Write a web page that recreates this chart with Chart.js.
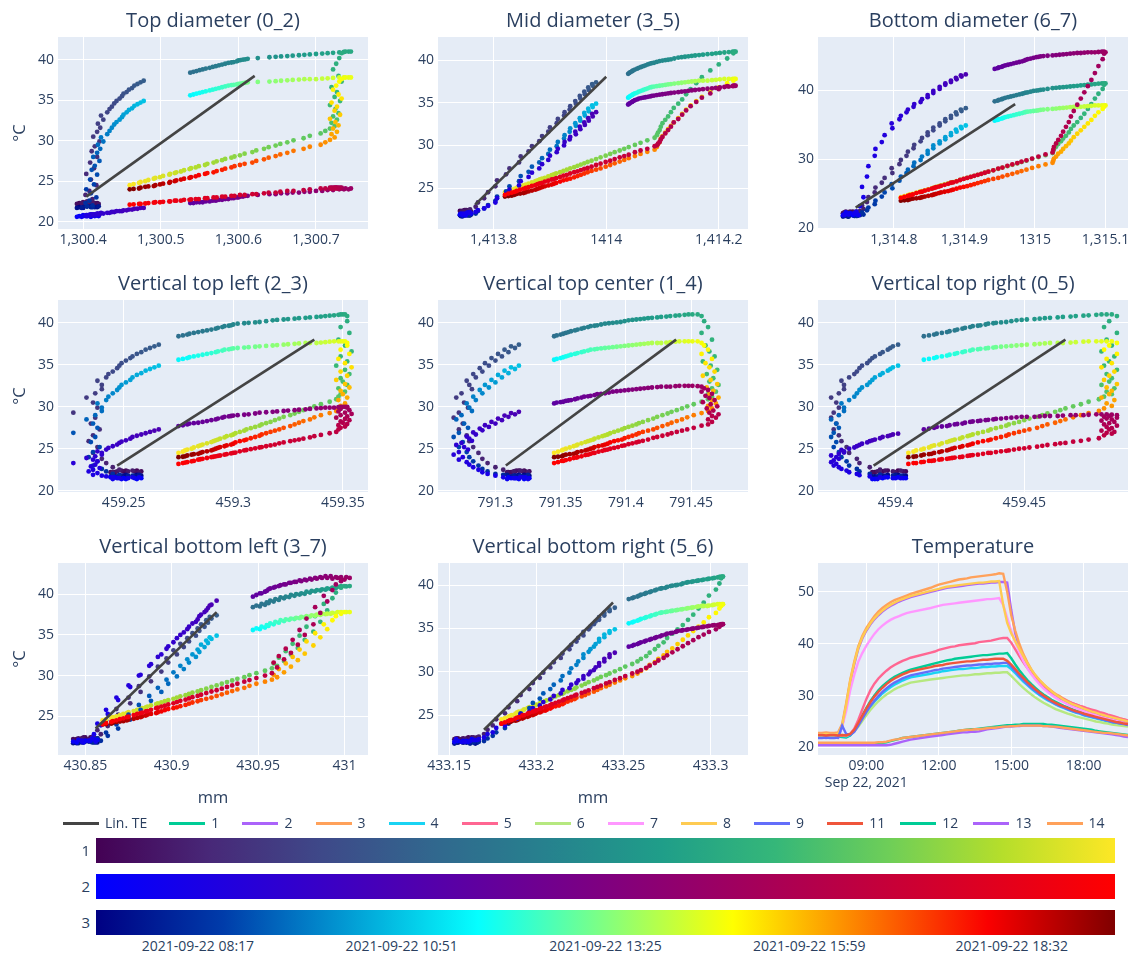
<!DOCTYPE html>
<html><head><meta charset="utf-8">
<script src="https://cdn.jsdelivr.net/npm/chart.js@4.4.1/dist/chart.umd.min.js"></script>
<style>
html,body{margin:0;padding:0;background:#fff;}
#page{position:relative;width:1136px;height:957px;overflow:hidden;font-family:'Open Sans',sans-serif;color:#2a3f5f;}
canvas{position:absolute;}
.lg{position:absolute;top:813px;height:20px;font-size:14px;line-height:20px;white-space:nowrap;}
.lg i{position:absolute;left:0;top:9px;width:36px;height:3px;}
.lg span{position:absolute;left:42px;top:0;}
.cb{position:absolute;left:96px;width:1019px;height:25px;}
.cbl{position:absolute;left:66px;width:24px;height:25px;line-height:25px;text-align:right;font-size:15px;}
.cbt{position:absolute;top:937px;line-height:18px;font-size:14px;transform:translateX(-50%);white-space:nowrap;}
</style></head><body><div id="page"></div>
<script>
// ================= DATA =================
// sample times of the scatter panels (gap between 10:50 and 11:40)
const sampleTimes = ["07:00","07:05","07:10","07:15","07:20","07:25","07:30","07:35","07:40","07:45","07:50","07:55","08:00",
"08:05","08:10","08:15","08:20","08:25","08:30","08:35","08:40","08:45","08:50","08:55","09:00","09:05","09:10","09:15","09:20","09:25","09:30","09:35","09:40","09:45","09:50","09:55","10:00","10:05","10:10","10:15","10:20","10:25","10:30","10:35","10:40","10:45","10:50",
"11:40","11:45","11:50","11:55","12:00","12:05","12:10","12:15","12:20","12:25","12:30","12:35","12:40","12:45","12:50","12:55","13:00","13:05","13:10","13:15","13:20","13:25","13:30","13:35","13:40","13:45","13:50","13:55","14:00","14:05","14:10","14:15","14:20","14:25","14:30","14:35","14:40","14:45","14:50","14:55",
"15:00","15:05","15:10","15:15","15:20","15:25","15:30","15:35","15:40","15:45","15:50","15:55","16:00","16:05","16:10","16:15","16:20","16:25",
"16:30","16:35","16:40","16:45","16:50","16:55","17:00","17:05","17:10","17:15","17:20","17:25","17:30","17:35","17:40","17:45","17:50","17:55","18:00","18:05","18:10","18:15","18:20","18:25","18:30","18:35","18:40","18:45","18:50","18:55","19:00","19:05","19:10","19:15","19:20","19:25","19:30","19:35","19:40","19:45","19:50"];

// sensor shown with colour scale 1 (same in every panel), °C
const tempScale1 = [22.3,22.4,22.2,22.3,22.4,22.2,22.3,22.4,22.2,22.3,22.3,22.2,22.4,
22.5,22.8,23.3,23.8,24.5,25.2,25.9,26.6,27.3,28.0,28.7,29.3,29.9,30.5,31.1,31.6,32.1,32.6,33.1,33.5,33.9,34.2,34.6,34.9,35.2,35.5,35.8,36.0,36.3,36.5,36.8,37.0,37.2,37.4,
38.4,38.5,38.6,38.7,38.8,38.9,39.0,39.1,39.2,39.3,39.4,39.5,39.6,39.65,39.7,39.8,39.9,39.95,40.0,40.05,40.1,40.2,40.3,40.35,40.4,40.45,40.5,40.55,40.6,40.65,40.7,40.75,40.8,40.85,40.9,40.95,41.0,41.0,41.0,40.8,
40.2,39.5,38.8,38.0,37.3,36.6,36.0,35.4,34.9,34.4,33.9,33.4,33.0,32.6,32.2,31.8,31.5,31.2,
30.9,30.6,30.3,30.05,29.8,29.6,29.4,29.2,29.0,28.8,28.6,28.4,28.2,28.05,27.9,27.75,27.6,27.45,27.3,27.15,27.0,26.85,26.7,26.6,26.5,26.35,26.2,26.1,26.0,25.9,25.8,25.65,25.5,25.4,25.3,25.15,25.0,24.9,24.8,24.65,24.5];
// sensor shown with colour scale 3 (same in every panel), °C
const tempScale3 = [21.8,21.9,21.7,21.8,21.9,21.7,21.8,21.8,21.9,21.7,21.8,21.9,21.8,
21.9,22.0,22.3,22.6,23.0,23.5,24.0,24.6,25.2,25.8,26.4,26.9,27.5,28.0,28.5,29.0,29.5,29.9,30.4,30.8,31.2,31.6,32.0,32.3,32.6,32.9,33.2,33.5,33.8,34.0,34.3,34.5,34.7,34.9,
35.6,35.7,35.8,35.9,36.0,36.1,36.2,36.3,36.4,36.5,36.6,36.7,36.8,36.85,36.9,36.95,37.0,37.05,37.1,37.15,37.2,37.25,37.3,37.35,37.4,37.45,37.5,37.55,37.6,37.6,37.6,37.65,37.7,37.75,37.8,37.8,37.8,37.8,37.8,37.6,
37.3,36.8,36.3,35.7,35.2,34.7,34.2,33.7,33.2,32.7,32.3,31.9,31.5,31.1,30.8,30.4,30.1,29.8,
29.5,29.25,29.0,28.75,28.5,28.3,28.1,27.9,27.7,27.5,27.3,27.15,27.0,26.85,26.7,26.55,26.4,26.25,26.1,26.0,25.9,25.75,25.6,25.5,25.4,25.3,25.2,25.1,25.0,24.9,24.8,24.7,24.6,24.5,24.4,24.35,24.3,24.2,24.1,24.05,24.0];

// ---- Top diameter (0_2): measured length (mm) and colour-scale-2 sensor (°C)
const topDiaX = [1300.395,1300.41,1300.40,1300.418,1300.405,1300.392,1300.415,1300.40,1300.42,1300.398,1300.41,1300.405,1300.412,
1300.405,1300.412,1300.403,1300.408,1300.417,1300.41,1300.404,1300.414,1300.409,1300.418,1300.411,1300.415,1300.421,1300.413,1300.418,1300.422,1300.419,1300.426,1300.423,1300.431,1300.434,1300.437,1300.44,1300.443,1300.447,1300.45,1300.452,1300.456,1300.459,1300.463,1300.466,1300.47,1300.474,1300.478,
1300.538,1300.542,1300.546,1300.55,1300.554,1300.558,1300.563,1300.567,1300.571,1300.575,1300.579,1300.583,1300.587,1300.591,1300.594,1300.598,1300.60,1300.603,1300.606,1300.609,1300.612,1300.625,1300.64,1300.648,1300.655,1300.663,1300.67,1300.678,1300.685,1300.692,1300.70,1300.708,1300.715,1300.722,1300.73,1300.736,1300.742,1300.745,1300.738,1300.733,
1300.73,1300.726,1300.722,1300.729,1300.733,1300.72,1300.727,1300.724,1300.731,1300.718,1300.725,1300.729,1300.722,1300.727,1300.72,1300.724,1300.718,1300.712,
1300.706,1300.692,1300.684,1300.671,1300.663,1300.654,1300.648,1300.639,1300.633,1300.623,1300.618,1300.608,1300.602,1300.595,1300.591,1300.583,1300.579,1300.572,1300.568,1300.56,1300.557,1300.549,1300.545,1300.539,1300.537,1300.53,1300.526,1300.52,1300.518,1300.512,1300.511,1300.503,1300.499,1300.493,1300.491,1300.484,1300.48,1300.474,1300.472,1300.465,1300.46];
const topDiaT = [20.7,20.6,20.7,20.8,20.7,20.6,20.7,20.8,20.7,20.6,20.7,20.7,20.8,
20.8,20.8,20.7,20.7,20.8,20.8,20.8,20.8,20.9,20.9,20.9,20.9,20.9,20.9,21.0,21.0,21.0,21.0,21.1,21.1,21.1,21.2,21.2,21.3,21.3,21.3,21.4,21.4,21.5,21.5,21.6,21.6,21.7,21.7,
22.3,22.3,22.4,22.4,22.4,22.5,22.5,22.6,22.6,22.7,22.7,22.8,22.8,22.9,22.9,23.0,23.0,23.1,23.1,23.2,23.2,23.3,23.4,23.4,23.5,23.5,23.6,23.6,23.7,23.7,23.8,23.8,23.9,23.9,24.0,24.0,24.0,24.1,24.1,24.1,
24.1,24.2,24.2,24.2,24.2,24.2,24.2,24.2,24.2,24.2,24.2,24.1,24.1,24.1,24.1,24.1,24.1,24.1,
24.1,24.0,23.9,23.8,23.8,23.7,23.6,23.6,23.5,23.4,23.4,23.3,23.3,23.2,23.2,23.1,23.1,23.0,23.0,22.9,22.9,22.8,22.8,22.75,22.7,22.7,22.6,22.6,22.6,22.5,22.5,22.45,22.4,22.4,22.35,22.3,22.25,22.2,22.2,22.15,22.1];
const topDiaLinX = [1300.404, 1300.621], topDiaLinY = [23.1, 38.0];
const topDiaTicks = [1300.4, 1300.5, 1300.6, 1300.7], topDiaTickText = ["1,300.4","1,300.5","1,300.6","1,300.7"];

// ---- Mid diameter (3_5)
const midDiaX = [1413.74,1413.752,1413.745,1413.758,1413.748,1413.742,1413.755,1413.75,1413.76,1413.744,1413.753,1413.747,1413.757,
1413.758,1413.768,1413.772,1413.783,1413.79,1413.803,1413.806,1413.822,1413.828,1413.845,1413.848,1413.862,1413.868,1413.881,1413.886,1413.897,1413.90,1413.912,1413.914,1413.925,1413.926,1413.935,1413.936,1413.946,1413.945,1413.954,1413.953,1413.962,1413.961,1413.969,1413.968,1413.976,1413.975,1413.982,
1414.039,1414.041,1414.043,1414.046,1414.048,1414.051,1414.055,1414.058,1414.062,1414.066,1414.07,1414.074,1414.078,1414.081,1414.085,1414.09,1414.095,1414.10,1414.105,1414.11,1414.115,1414.121,1414.128,1414.134,1414.14,1414.146,1414.152,1414.158,1414.165,1414.172,1414.18,1414.188,1414.195,1414.202,1414.21,1414.218,1414.225,1414.228,1414.23,1414.226,
1414.215,1414.20,1414.185,1414.17,1414.16,1414.15,1414.142,1414.135,1414.128,1414.12,1414.115,1414.11,1414.105,1414.10,1414.097,1414.095,1414.092,1414.09,
1414.086,1414.073,1414.061,1414.051,1414.04,1414.032,1414.024,1414.015,1414.007,1413.999,1413.99,1413.982,1413.974,1413.967,1413.961,1413.955,1413.949,1413.943,1413.936,1413.93,1413.924,1413.918,1413.911,1413.907,1413.903,1413.897,1413.891,1413.886,1413.882,1413.878,1413.874,1413.868,1413.862,1413.857,1413.853,1413.847,1413.841,1413.837,1413.832,1413.826,1413.82];
const midDiaT = [21.9,22.0,21.8,22.1,21.9,22.0,22.1,21.8,22.0,21.9,22.1,22.0,22.1,
22.1,22.2,22.4,22.6,22.9,23.3,23.8,24.3,24.8,25.3,25.8,26.3,26.8,27.3,27.8,28.3,28.8,29.2,29.6,30.0,30.4,30.7,31.0,31.3,31.6,31.9,32.2,32.4,32.7,32.9,33.2,33.4,33.7,33.9,
34.8,34.9,35.0,35.1,35.2,35.3,35.4,35.5,35.55,35.6,35.65,35.7,35.75,35.8,35.85,35.9,35.95,36.0,36.05,36.1,36.15,36.2,36.25,36.3,36.35,36.4,36.45,36.5,36.55,36.6,36.65,36.7,36.75,36.8,36.85,36.9,36.95,37.0,37.0,37.0,
36.95,36.6,36.1,35.6,35.1,34.6,34.1,33.6,33.1,32.7,32.2,31.8,31.4,31.0,30.7,30.4,30.2,30.0,
29.9,29.6,29.4,29.2,28.9,28.75,28.6,28.4,28.2,28.05,27.85,27.7,27.5,27.35,27.25,27.1,26.95,26.85,26.7,26.55,26.45,26.3,26.15,26.05,26.0,25.85,25.75,25.6,25.55,25.45,25.35,25.25,25.1,25.0,24.9,24.8,24.65,24.55,24.45,24.35,24.2];
const midDiaLinX = [1413.767, 1414.0], midDiaLinY = [23.05, 38.05];
const midDiaTicks = [1413.8, 1414, 1414.2], midDiaTickText = ["1,413.8","1414","1,414.2"];

// ---- Bottom diameter (6_7)
const botDiaX = [1314.73,1314.742,1314.735,1314.748,1314.738,1314.728,1314.745,1314.732,1314.75,1314.736,1314.744,1314.73,1314.747,
1314.752,1314.757,1314.755,1314.762,1314.764,1314.773,1314.774,1314.783,1314.787,1314.798,1314.797,1314.808,1314.81,1314.818,1314.82,1314.828,1314.829,1314.838,1314.84,1314.848,1314.848,1314.856,1314.856,1314.865,1314.865,1314.873,1314.873,1314.881,1314.881,1314.889,1314.888,1314.896,1314.895,1314.902,
1314.943,1314.947,1314.949,1314.953,1314.955,1314.958,1314.962,1314.966,1314.97,1314.974,1314.978,1314.982,1314.985,1314.987,1314.99,1314.994,1314.998,1315.002,1315.005,1315.008,1315.012,1315.018,1315.025,1315.03,1315.035,1315.04,1315.045,1315.05,1315.055,1315.06,1315.065,1315.07,1315.075,1315.08,1315.085,1315.09,1315.095,1315.098,1315.10,1315.098,
1315.096,1315.09,1315.085,1315.08,1315.075,1315.07,1315.065,1315.06,1315.055,1315.051,1315.048,1315.044,1315.04,1315.037,1315.033,1315.03,1315.027,1315.026,
1315.025,1315.015,1315.005,1314.996,1314.988,1314.981,1314.975,1314.968,1314.961,1314.954,1314.948,1314.941,1314.934,1314.929,1314.924,1314.919,1314.914,1314.909,1314.904,1314.899,1314.894,1314.889,1314.884,1314.881,1314.877,1314.872,1314.867,1314.864,1314.86,1314.857,1314.854,1314.849,1314.844,1314.84,1314.837,1314.832,1314.827,1314.823,1314.82,1314.815,1314.81];
const botDiaT = [22.0,21.9,22.1,22.0,22.2,21.9,22.1,22.3,21.9,22.0,22.2,21.9,22.4,
23.2,24.5,26.0,27.5,29.0,30.5,31.5,32.5,33.5,34.5,35.2,35.8,36.3,36.8,37.2,37.6,38.0,38.3,38.7,39.0,39.3,39.6,39.9,40.2,40.5,40.8,41.0,41.2,41.4,41.6,41.8,42.0,42.15,42.3,
43.1,43.2,43.3,43.4,43.5,43.6,43.7,43.8,43.9,44.0,44.1,44.2,44.3,44.4,44.5,44.6,44.7,44.8,44.85,44.9,44.95,45.0,45.05,45.1,45.15,45.2,45.25,45.3,45.35,45.4,45.4,45.45,45.5,45.5,45.5,45.55,45.6,45.6,45.5,45.3,
44.5,43.5,42.5,41.5,40.6,39.7,38.8,37.9,37.0,36.2,35.4,34.7,34.0,33.4,32.8,32.3,31.8,31.4,
31.0,30.7,30.4,30.1,29.85,29.65,29.45,29.25,29.05,28.8,28.65,28.4,28.2,28.05,27.9,27.75,27.6,27.45,27.3,27.15,27.0,26.8,26.65,26.6,26.45,26.3,26.15,26.05,25.95,25.85,25.75,25.6,25.45,25.3,25.25,25.1,24.9,24.8,24.7,24.55,24.4];
const botDiaLinX = [1314.746, 1314.972], botDiaLinY = [23.0, 38.0];
const botDiaTicks = [1314.8, 1314.9, 1315, 1315.1], botDiaTickText = ["1,314.8","1,314.9","1315","1,315.1"];

// ---- Vertical top left (2_3)
const vtlX = [459.25,459.256,459.246,459.258,459.251,459.244,459.255,459.249,459.257,459.247,459.252,459.245,459.254,
459.248,459.245,459.242,459.24,459.236,459.238,459.234,459.236,459.239,459.235,459.237,459.227,459.238,459.236,459.233,459.237,459.24,459.24,459.238,459.242,459.243,459.245,459.247,459.248,459.249,459.251,459.253,459.254,459.256,459.258,459.26,459.262,459.264,459.266,
459.275,459.277,459.279,459.28,459.282,459.284,459.286,459.288,459.29,459.292,459.293,459.295,459.296,459.298,459.299,459.30,459.302,459.305,459.307,459.31,459.312,459.315,459.318,459.32,459.323,459.325,459.328,459.33,459.333,459.335,459.338,459.34,459.342,459.344,459.346,459.348,459.349,459.35,459.351,459.352,
459.352,459.349,459.353,459.348,459.351,459.354,459.349,459.352,459.347,459.351,459.353,459.349,459.35,459.352,459.348,459.351,459.349,459.348,
459.347,459.344,459.34,459.337,459.335,459.332,459.33,459.328,459.326,459.323,459.321,459.319,459.317,459.315,459.313,459.312,459.31,459.308,459.306,459.305,459.303,459.301,459.30,459.299,459.297,459.296,459.294,459.293,459.292,459.291,459.29,459.288,459.286,459.285,459.284,459.282,459.281,459.279,459.278,459.277,459.275];
const vtlT = [21.5,21.4,21.6,21.5,21.4,21.6,21.5,21.4,21.6,21.5,21.5,21.4,21.6,
21.5,21.6,21.7,21.8,21.9,22.1,22.3,22.5,22.7,22.9,23.1,23.3,23.5,23.7,23.9,24.1,24.3,24.5,24.7,24.9,25.1,25.3,25.5,25.7,25.85,26.0,26.2,26.4,26.55,26.7,26.85,27.0,27.15,27.3,
27.7,27.8,27.9,28.0,28.05,28.1,28.2,28.3,28.4,28.5,28.6,28.7,28.8,28.85,28.9,28.95,29.0,29.05,29.1,29.2,29.3,29.35,29.4,29.45,29.5,29.55,29.6,29.65,29.7,29.75,29.8,29.85,29.9,29.9,29.9,29.95,30.0,30.0,30.0,30.0,
29.9,29.75,29.6,29.45,29.3,29.15,29.0,28.85,28.7,28.55,28.4,28.25,28.1,27.95,27.8,27.65,27.5,27.3,
27.0,26.85,26.65,26.5,26.35,26.2,26.1,26.0,25.9,25.75,25.65,25.5,25.4,25.3,25.2,25.15,25.05,24.95,24.85,24.8,24.7,24.55,24.5,24.45,24.35,24.3,24.2,24.15,24.1,24.05,24.0,23.9,23.8,23.75,23.7,23.55,23.5,23.4,23.35,23.3,23.2];
const vtlLinX = [459.247, 459.337], vtlLinY = [23.0, 38.0];
const vtlTicks = [459.25, 459.3, 459.35], vtlTickText = ["459.25","459.3","459.35"];

// ---- Vertical top center (1_4)
const vtcX = [791.315,791.322,791.31,791.326,791.318,791.312,791.323,791.316,791.309,791.321,791.314,791.325,791.319,
791.306,791.30,791.294,791.29,791.287,791.283,791.28,791.278,791.272,791.275,791.268,791.272,791.279,791.276,791.27,791.274,791.282,791.28,791.278,791.285,791.283,791.29,791.288,791.295,791.292,791.30,791.297,791.305,791.302,791.31,791.307,791.315,791.312,791.318,
791.345,791.347,791.35,791.352,791.354,791.356,791.358,791.361,791.363,791.366,791.368,791.371,791.373,791.376,791.378,791.381,791.384,791.387,791.39,791.393,791.396,791.399,791.402,791.405,791.408,791.411,791.414,791.417,791.42,791.424,791.427,791.431,791.434,791.438,791.441,791.445,791.448,791.451,791.455,791.458,
791.46,791.463,791.458,791.466,791.461,791.464,791.468,791.459,791.465,791.47,791.462,791.467,791.464,791.471,791.466,791.469,791.463,791.466,
791.463,791.458,791.452,791.447,791.443,791.439,791.435,791.432,791.428,791.424,791.421,791.417,791.413,791.41,791.408,791.405,791.402,791.399,791.397,791.394,791.391,791.388,791.386,791.384,791.382,791.379,791.376,791.375,791.373,791.371,791.369,791.366,791.363,791.362,791.36,791.357,791.354,791.352,791.351,791.348,791.345];
const vtcT = [21.5,21.4,21.6,21.5,21.4,21.5,21.6,21.5,21.4,21.6,21.5,21.4,21.6,
21.6,21.8,22.0,22.2,22.5,22.8,23.1,23.4,23.7,24.0,24.3,24.6,24.9,25.2,25.45,25.7,25.95,26.2,26.45,26.7,26.95,27.2,27.4,27.6,27.8,28.0,28.2,28.4,28.6,28.8,28.95,29.1,29.25,29.4,
30.4,30.5,30.55,30.6,30.7,30.75,30.8,30.9,31.0,31.1,31.2,31.25,31.3,31.4,31.5,31.55,31.6,31.7,31.8,31.85,31.9,31.95,32.0,32.05,32.1,32.15,32.2,32.25,32.3,32.35,32.4,32.4,32.4,32.45,32.5,32.5,32.5,32.5,32.45,32.4,
32.2,32.0,31.8,31.55,31.3,31.05,30.8,30.55,30.3,30.05,29.8,29.55,29.3,29.1,28.9,28.7,28.5,28.2,
27.9,27.75,27.5,27.3,27.15,27.0,26.85,26.7,26.55,26.4,26.3,26.1,25.95,25.85,25.75,25.65,25.55,25.4,25.35,25.2,25.1,25.0,24.9,24.85,24.75,24.65,24.5,24.5,24.4,24.3,24.25,24.1,24.0,23.95,23.9,23.75,23.65,23.55,23.55,23.4,23.3];
const vtcLinX = [791.308, 791.4385], vtcLinY = [23.0, 38.0];
const vtcTicks = [791.3, 791.35, 791.4, 791.45], vtcTickText = ["791.3","791.35","791.4","791.45"];

// ---- Vertical top right (0_5)
const vtrX = [459.395,459.401,459.392,459.404,459.397,459.391,459.403,459.396,459.40,459.393,459.399,459.394,459.402,
459.394,459.39,459.386,459.385,459.382,459.381,459.379,459.378,459.376,459.377,459.375,459.376,459.378,459.377,459.375,459.378,459.38,459.38,459.379,459.382,459.384,459.385,459.386,459.387,459.389,459.39,459.391,459.392,459.394,459.395,459.397,459.398,459.399,459.401,
459.411,459.413,459.415,459.416,459.418,459.42,459.421,459.423,459.424,459.426,459.427,459.429,459.43,459.432,459.433,459.435,459.436,459.438,459.439,459.441,459.443,459.445,459.447,459.449,459.451,459.454,459.456,459.458,459.46,459.463,459.465,459.468,459.47,459.473,459.475,459.478,459.48,459.482,459.484,459.486,
459.483,459.481,459.486,459.482,459.484,459.48,459.485,459.483,459.481,459.486,459.482,459.484,459.483,459.48,459.485,459.482,459.484,459.481,
459.479,459.475,459.472,459.469,459.466,459.464,459.462,459.459,459.457,459.455,459.452,459.45,459.448,459.446,459.444,459.443,459.441,459.439,459.437,459.436,459.434,459.432,459.43,459.429,459.428,459.426,459.425,459.423,459.422,459.421,459.42,459.418,459.417,459.415,459.414,459.413,459.411,459.41,459.408,459.407,459.405];
const vtrT = [21.5,21.6,21.4,21.5,21.6,21.4,21.5,21.6,21.5,21.4,21.5,21.6,21.5,
21.6,21.7,21.85,22.0,22.2,22.4,22.6,22.8,23.0,23.2,23.4,23.6,23.8,24.0,24.2,24.4,24.55,24.7,24.85,25.0,25.15,25.3,25.45,25.6,25.75,25.9,26.0,26.1,26.25,26.4,26.5,26.6,26.7,26.8,
27.3,27.4,27.5,27.6,27.65,27.7,27.8,27.9,27.95,28.0,28.1,28.2,28.25,28.3,28.35,28.4,28.45,28.5,28.55,28.6,28.65,28.7,28.75,28.8,28.8,28.8,28.85,28.9,28.9,28.9,28.95,29.0,29.0,29.0,29.05,29.1,29.1,29.1,29.05,29.0,
28.9,28.8,28.7,28.6,28.5,28.35,28.2,28.05,27.9,27.75,27.6,27.45,27.3,27.15,27.0,26.9,26.8,26.6,
26.25,26.1,25.95,25.85,25.7,25.65,25.55,25.45,25.35,25.25,25.15,25.05,25.0,24.9,24.8,24.75,24.7,24.6,24.5,24.5,24.4,24.3,24.25,24.2,24.15,24.05,24.0,23.95,23.9,23.85,23.8,23.75,23.7,23.6,23.55,23.55,23.45,23.4,23.3,23.3,23.2];
const vtrLinX = [459.3915, 459.466], vtrLinY = [23.0, 38.0];
const vtrTicks = [459.4, 459.45], vtrTickText = ["459.4","459.45"];

// ---- Vertical bottom left (3_7)
const vblX = [430.848,430.853,430.845,430.857,430.85,430.843,430.855,430.849,430.852,430.846,430.856,430.848,430.854,
430.855,430.859,430.857,430.863,430.862,430.869,430.868,430.876,430.875,430.882,430.881,430.888,430.887,430.894,430.892,430.898,430.897,430.903,430.901,430.907,430.905,430.91,430.909,430.914,430.912,430.916,430.915,430.919,430.917,430.921,430.92,430.923,430.922,430.926,
430.947,430.951,430.949,430.954,430.952,430.956,430.955,430.959,430.957,430.962,430.96,430.965,430.963,430.968,430.966,430.971,430.969,430.974,430.972,430.977,430.975,430.98,430.978,430.983,430.981,430.986,430.984,430.989,430.987,430.992,430.99,430.995,430.993,430.998,430.996,431.001,430.998,431.003,431.0,430.998,
430.995,430.993,430.988,430.99,430.983,430.986,430.978,430.982,430.974,430.977,430.97,430.973,430.966,430.969,430.962,430.965,430.959,430.961,
430.958,430.954,430.949,430.945,430.942,430.938,430.935,430.932,430.929,430.926,430.923,430.92,430.917,430.915,430.912,430.91,430.908,430.905,430.903,430.901,430.898,430.896,430.894,430.892,430.891,430.888,430.886,430.885,430.883,430.882,430.88,430.878,430.875,430.874,430.872,430.87,430.868,430.866,430.865,430.862,430.86];
const vblT = [21.9,22.0,21.8,22.1,22.0,21.9,22.2,21.8,22.0,22.1,21.9,22.0,22.3,
22.8,23.9,24.1,25.3,25.8,27.0,27.3,28.6,28.8,30.1,30.0,31.4,31.2,32.6,32.3,33.6,33.3,34.6,34.1,35.3,35.0,36.0,35.7,36.6,36.4,37.3,36.9,37.8,37.5,38.3,38.0,38.7,38.6,39.2,
39.7,40.1,39.9,40.3,40.1,40.6,40.4,40.8,40.7,41.0,40.9,41.2,41.1,41.4,41.2,41.5,41.4,41.7,41.5,41.8,41.6,41.9,41.7,42.0,41.8,42.1,41.9,42.2,42.0,42.2,42.0,42.1,41.9,42.1,42.0,42.1,41.9,42.0,41.8,41.6,
41.2,40.5,39.8,39.1,38.4,37.7,37.0,36.3,35.6,35.0,34.4,33.8,33.3,32.8,32.4,32.0,31.6,31.0,
30.3,30.0,29.7,29.45,29.25,29.0,28.8,28.6,28.4,28.2,28.05,27.85,27.65,27.5,27.35,27.2,27.05,26.9,26.75,26.6,26.45,26.3,26.2,26.05,26.0,25.8,25.65,25.6,25.45,25.4,25.3,25.15,24.95,24.9,24.75,24.65,24.5,24.4,24.3,24.15,24.0];
const vblLinX = [430.856, 430.926], vblLinY = [23.5, 37.8];
const vblTicks = [430.85, 430.9, 430.95, 431], vblTickText = ["430.85","430.9","430.95","431"];

// ---- Vertical bottom right (5_6)
const vbrX = [433.155,433.161,433.165,433.158,433.163,433.153,433.16,433.166,433.157,433.162,433.154,433.159,433.164,
433.167,433.17,433.172,433.175,433.177,433.182,433.184,433.189,433.191,433.196,433.198,433.202,433.204,433.208,433.21,433.214,433.215,433.219,433.22,433.223,433.224,433.227,433.227,433.23,433.231,433.233,433.234,433.236,433.236,433.239,433.239,433.242,433.242,433.245,
433.253,433.255,433.256,433.258,433.259,433.26,433.262,433.263,433.265,433.266,433.268,433.269,433.271,433.272,433.274,433.275,433.277,433.278,433.28,433.281,433.283,433.284,433.286,433.287,433.289,433.29,433.292,433.293,433.295,433.296,433.298,433.299,433.301,433.302,433.304,433.305,433.306,433.307,433.307,433.306,
433.305,433.303,433.299,433.296,433.293,433.29,433.287,433.284,433.281,433.278,433.275,433.273,433.27,433.268,433.265,433.263,433.26,433.258,
433.255,433.251,433.248,433.245,433.242,433.24,433.237,433.235,433.233,433.23,433.228,433.226,433.223,433.222,433.22,433.218,433.216,433.215,433.213,433.211,433.209,433.208,433.206,433.205,433.203,433.202,433.20,433.199,433.198,433.196,433.195,433.193,433.192,433.19,433.189,433.188,433.186,433.185,433.184,433.182,433.18];
const vbrT = [22.0,21.9,22.1,22.0,22.2,21.9,22.0,22.1,21.9,22.0,22.2,21.9,22.1,
22.2,22.4,22.8,23.0,23.5,23.8,24.3,24.6,25.1,25.4,25.8,26.1,26.5,26.8,27.2,27.5,27.9,28.1,28.5,28.7,29.0,29.2,29.5,29.7,30.0,30.2,30.5,30.7,31.0,31.2,31.5,31.7,32.0,32.2,
32.9,33.0,33.1,33.2,33.3,33.4,33.5,33.6,33.7,33.8,33.9,34.0,34.1,34.2,34.3,34.4,34.45,34.5,34.6,34.7,34.75,34.8,34.85,34.9,34.95,35.0,35.05,35.1,35.15,35.2,35.25,35.3,35.35,35.4,35.4,35.45,35.5,35.5,35.5,35.4,
35.2,34.9,34.6,34.3,34.0,33.65,33.3,32.95,32.6,32.25,31.9,31.6,31.3,31.0,30.7,30.45,30.2,30.0,
29.8,29.5,29.25,29.05,28.8,28.65,28.4,28.25,28.1,27.85,27.7,27.55,27.35,27.25,27.1,26.95,26.8,26.7,26.55,26.4,26.25,26.15,26.0,25.95,25.8,25.7,25.55,25.45,25.4,25.25,25.15,25.0,24.95,24.75,24.7,24.6,24.45,24.4,24.3,24.15,24.0];
const vbrLinX = [433.17, 433.244], vbrLinY = [23.3, 38.0];
const vbrTicks = [433.15, 433.2, 433.25, 433.3], vbrTickText = ["433.15","433.2","433.25","433.3"];

// ---- Temperature panel (10-minute samples)
const lineTimes = ["07:00","07:10","07:20","07:30","07:40","07:50","08:00",
"08:10","08:20","08:30","08:40","08:50","09:00","09:10","09:20","09:30","09:40","09:50","10:00","10:10","10:20","10:30","10:40","10:50",
"11:40","11:50","12:00","12:10","12:20","12:30","12:40","12:50","13:00","13:10","13:20","13:30","13:40","13:50","14:00","14:10","14:20","14:30","14:40","14:50",
"15:00","15:10","15:20","15:30","15:40","15:50","16:00","16:10","16:20",
"16:30","16:40","16:50","17:00","17:10","17:20","17:30","17:40","17:50","18:00","18:10","18:20","18:30","18:40","18:50","19:00","19:10","19:20","19:30","19:40","19:50"];
const lineNames = ["1","2","3","4","5","6","7","8","9","11","12","13","14"];
const line1 = [22.0,22.0,22.1,22.0,22.0,22.1,22.0, 21.9,22.3,23.2,24.6,26.1,27.6,28.9,30.0,31.0,31.8,32.5,33.1,33.6,34.0,34.4,34.7,35.0,
36.0,36.2,36.4,36.6,36.8,36.9,37.1,37.2,37.3,37.4,37.5,37.6,37.7,37.8,37.8,37.9,38.0,38.1,38.1,38.2, 37.2,36.0,34.9,33.9,33.0,32.2,31.5,30.8,30.2,
29.7,29.2,28.8,28.4,28.0,27.7,27.4,27.1,26.8,26.6,26.3,26.1,25.9,25.7,25.5,25.3,25.1,24.9,24.7,24.5,24.3];
const line2 = [21.9,21.9,21.8,21.9,21.9,21.8,24.0, 28.0,32.5,36.0,39.0,41.0,42.5,43.7,44.7,45.5,46.2,46.8,47.3,47.7,48.1,48.4,48.7,49.0,
50.0,50.2,50.4,50.6,50.8,50.9,51.0,51.1,51.2,51.3,51.4,51.5,51.6,51.6,51.7,51.8,51.8,51.9,51.9,51.8, 46.5,42.0,39.3,37.3,35.7,34.4,33.3,32.4,31.6,
30.9,30.3,29.8,29.3,28.9,28.5,28.1,27.8,27.5,27.2,26.9,26.6,26.4,26.1,25.9,25.7,25.5,25.3,25.1,24.9,24.7];
const line3 = [22.8,22.8,22.9,22.8,22.8,22.9,24.5, 28.5,33.0,36.5,39.5,41.5,43.0,44.2,45.3,46.2,46.9,47.5,48.0,48.4,48.7,49.0,49.3,49.6,
50.8,51.1,51.4,51.6,51.8,52.0,52.2,52.4,52.5,52.6,52.8,52.9,53.0,53.1,53.2,53.3,53.4,53.6,53.5,50.0, 45.5,42.5,40.0,38.0,36.4,35.0,33.9,33.0,32.2,
31.5,30.9,30.3,29.9,29.4,29.0,28.6,28.3,28.0,27.7,27.4,27.1,26.9,26.6,26.4,26.2,26.0,25.8,25.6,25.4,25.2];
const line4 = [22.1,22.1,22.2,22.1,22.1,22.2,22.2, 22.1,22.4,23.1,24.2,25.5,26.7,27.8,28.8,29.6,30.4,31.0,31.6,32.1,32.5,32.9,33.2,33.5,
34.2,34.4,34.5,34.7,34.8,34.9,35.0,35.1,35.1,35.2,35.3,35.3,35.4,35.5,35.5,35.6,35.6,35.7,35.7,35.7, 35.1,34.3,33.5,32.7,32.0,31.3,30.7,30.1,29.6,
29.1,28.7,28.3,27.9,27.6,27.3,27.0,26.7,26.5,26.2,26.0,25.8,25.6,25.4,25.2,25.0,24.8,24.7,24.5,24.4,24.2];
const line5 = [22.3,22.3,22.2,22.3,22.3,22.2,22.3, 22.2,22.6,23.6,25.3,27.3,29.3,31.0,32.3,33.3,34.1,34.8,35.4,35.9,36.3,36.7,37.0,37.3,
38.3,38.5,38.8,39.0,39.2,39.4,39.5,39.7,39.8,39.9,40.0,40.1,40.3,40.4,40.5,40.6,40.8,41.0,41.1,41.1, 40.2,38.9,37.6,36.4,35.3,34.3,33.4,32.6,31.9,
31.3,30.7,30.2,29.7,29.3,28.9,28.6,28.3,28.0,27.8,27.5,27.3,27.1,26.8,26.6,26.3,26.1,25.9,25.6,25.4,25.2];
const line6 = [22.3,22.3,22.4,22.3,22.3,22.4,22.4, 22.3,22.5,23.1,24.0,25.1,26.2,27.2,28.1,28.9,29.6,30.2,30.7,31.2,31.6,31.9,32.2,32.5,
33.1,33.2,33.3,33.4,33.5,33.6,33.7,33.8,33.9,33.9,34.0,34.1,34.1,34.2,34.3,34.3,34.4,34.4,34.5,34.5, 33.8,33.0,32.2,31.5,30.8,30.2,29.6,29.1,28.6,
28.2,27.8,27.4,27.1,26.8,26.5,26.3,26.0,25.8,25.6,25.4,25.2,25.0,24.9,24.7,24.6,24.4,24.3,24.2,24.1,24.0];
const line7 = [22.5,22.5,22.4,22.5,22.5,22.4,24.0, 27.0,31.0,34.0,36.5,38.2,39.6,40.8,41.9,42.8,43.5,44.1,44.6,45.0,45.3,45.6,45.9,46.1,
46.9,47.1,47.3,47.5,47.6,47.7,47.8,47.9,48.0,48.1,48.2,48.3,48.4,48.5,48.6,48.6,48.7,48.8,47.5,45.0, 42.5,40.3,38.4,36.7,35.3,34.1,33.1,32.2,31.4,
30.7,30.1,29.6,29.1,28.7,28.3,27.9,27.6,27.3,27.0,26.7,26.4,26.2,25.9,25.7,25.5,25.3,25.1,24.9,24.7,24.5];
const line8 = [22.5,22.5,22.6,22.5,22.5,22.6,24.2, 28.2,32.8,36.3,39.2,41.2,42.7,43.9,44.9,45.7,46.4,47.0,47.5,47.9,48.3,48.6,48.9,49.2,
50.2,50.4,50.6,50.8,51.0,51.1,51.2,51.3,51.4,51.5,51.6,51.7,51.8,51.8,51.9,52.0,52.0,52.1,47.5,44.0, 42.0,40.5,39.0,37.6,36.2,35.0,33.9,33.0,32.2,
31.5,30.8,30.2,29.7,29.2,28.8,28.4,28.1,27.8,27.5,27.2,26.9,26.7,26.4,26.2,26.0,25.8,25.6,25.4,25.2,25.0];
const line9 = [21.8,21.8,21.9,21.8,21.8,21.9,24.2, 22.6,22.4,23.0,24.2,25.5,26.8,28.0,29.0,29.9,30.7,31.4,32.0,32.5,32.9,33.3,33.6,33.9,
34.7,34.9,35.0,35.2,35.3,35.4,35.5,35.6,35.7,35.8,35.8,35.9,36.0,36.0,36.1,36.1,36.2,36.2,36.3,36.3, 35.6,34.7,33.8,33.0,32.2,31.5,30.9,30.3,29.8,
29.3,28.8,28.4,28.0,27.7,27.4,27.1,26.8,26.6,26.3,26.1,25.9,25.7,25.5,25.3,25.1,24.9,24.8,24.6,24.5,24.3];
const line11 = [22.4,22.4,22.3,22.4,22.4,22.3,22.4, 22.3,22.6,23.4,24.7,26.1,27.5,28.7,29.8,30.7,31.5,32.2,32.8,33.3,33.7,34.1,34.4,34.7,
35.5,35.7,35.8,35.9,36.1,36.2,36.3,36.4,36.5,36.6,36.6,36.7,36.8,36.9,36.9,37.0,37.1,37.1,37.1,36.7, 36.0,35.1,34.2,33.4,32.6,31.9,31.2,30.6,30.0,
29.5,29.0,28.6,28.2,27.9,27.6,27.3,27.0,26.8,26.5,26.3,26.1,25.9,25.7,25.5,25.3,25.1,24.9,24.8,24.6,24.5];
const line12 = [20.8,20.8,20.8,20.8,20.8,20.8,20.8, 20.8,20.8,20.8,20.8,20.8,20.8,20.8,20.8,20.8,20.9,21.0,21.2,21.4,21.6,21.8,21.9,22.0,
22.5,22.6,22.7,22.8,22.9,23.0,23.1,23.2,23.3,23.4,23.5,23.5,23.6,23.7,23.8,23.9,24.0,24.1,24.2,24.3, 24.3,24.4,24.4,24.5,24.5,24.5,24.5,24.5,24.5,
24.4,24.4,24.3,24.2,24.1,24.0,23.9,23.8,23.7,23.6,23.5,23.4,23.2,23.1,23.0,22.9,22.8,22.7,22.6,22.5,22.4];
const line13 = [20.4,20.4,20.4,20.4,20.4,20.4,20.4, 20.4,20.4,20.4,20.4,20.4,20.4,20.4,20.4,20.4,20.4,20.4,20.5,20.7,20.9,21.1,21.3,21.5,
22.1,22.2,22.3,22.4,22.5,22.6,22.7,22.8,22.9,22.9,23.0,23.0,23.1,23.3,23.5,23.6,23.7,23.8,23.9,24.0, 24.0,24.1,24.1,24.2,24.2,24.2,24.2,24.2,24.1,
24.1,24.0,23.9,23.8,23.7,23.6,23.5,23.4,23.3,23.2,23.1,23.0,22.9,22.8,22.7,22.6,22.5,22.4,22.3,22.1,22.0];
const line14 = [20.9,20.9,20.9,20.9,20.9,20.9,20.9, 20.9,20.9,20.9,20.9,20.9,20.9,20.9,20.9,21.0,21.0,21.1,21.3,21.5,21.6,21.8,21.9,22.0,
22.5,22.6,22.7,22.8,22.9,23.0,23.1,23.2,23.3,23.4,23.4,23.5,23.5,23.6,23.7,23.8,23.8,23.9,24.0,24.0, 24.1,24.1,24.2,24.2,24.2,24.2,24.2,24.2,24.1,
24.1,24.0,24.0,23.9,23.8,23.7,23.6,23.5,23.4,23.3,23.2,23.1,23.0,22.9,22.8,22.8,22.7,22.6,22.5,22.4,22.3];
const lineSeries = [line1,line2,line3,line4,line5,line6,line7,line8,line9,line11,line12,line13,line14];
const tempTicks = ["09:00","12:00","15:00","18:00"];
const tempFirstTickSub = "Sep 22, 2021";

// colour bars
const colorRange = ["07:00", "19:50"];
const cbTickTimes = ["08:17","10:51","13:25","15:59","18:32"];
const cbTickText = ["2021-09-22 08:17","2021-09-22 10:51","2021-09-22 13:25","2021-09-22 15:59","2021-09-22 18:32"];

// ================= STYLE =================
const lineColors = ['#00cc96','#ab63fa','#ffa15a','#19d3f3','#ff6692','#b6e880','#ff97ff','#fecb52','#636efa','#ef553b','#00cc96','#ab63fa','#ffa15a'];
const viridis = [[0,'#440154'],[1/9,'#482878'],[2/9,'#3e4989'],[3/9,'#31688e'],[4/9,'#26828e'],[5/9,'#1f9e89'],[6/9,'#35b779'],[7/9,'#6ece58'],[8/9,'#b5de2b'],[1,'#fde725']];
const bluered = [[0,'#0000ff'],[1,'#ff0000']];
const jet = [[0,'#000083'],[0.125,'#003caa'],[0.375,'#05ffff'],[0.625,'#ffff00'],[0.875,'#fa0000'],[1,'#800000']];
const INK = '#2a3f5f';
const colLeft = [58, 438, 818], rowTop = [37, 300, 563], PW = 310, PH = 192;

// ================= HELPERS =================
const toMin = s => { const p = s.split(':'); return (+p[0]) * 60 + (+p[1]); };
const tMin = sampleTimes.map(toMin);
const lineMin = lineTimes.map(toMin);
const T0 = toMin(colorRange[0]), T1 = toMin(colorRange[1]);
function hex(c){ return [parseInt(c.slice(1,3),16), parseInt(c.slice(3,5),16), parseInt(c.slice(5,7),16)]; }
function cmap(stops, f){
  f = Math.max(0, Math.min(1, f));
  for (let i = 1; i < stops.length; i++) {
    if (f <= stops[i][0]) {
      const a = stops[i-1], b = stops[i];
      const u = (f - a[0]) / (b[0] - a[0]);
      const ca = hex(a[1]), cb = hex(b[1]);
      return 'rgb(' + ca.map((v,k)=>Math.round(v + (cb[k]-v)*u)).join(',') + ')';
    }
  }
  return stops[stops.length-1][1];
}
function cloud(xs, ys, stops){
  return { type:'scatter', data: xs.map((x,i)=>({x:x, y:ys[i]})),
    pointBackgroundColor: tMin.map(t=>cmap(stops,(t-T0)/(T1-T0))),
    pointBorderWidth:0, pointRadius:2.4, pointHoverRadius:0, showLine:false };
}
function linTE(xs, ys){
  return { type:'line', data: xs.map((x,i)=>({x:x, y:ys[i]})), borderColor:'#444444', borderWidth:2.6,
    pointRadius:0, fill:false, tension:0 };
}
const bgPlugin = { id:'plotbg', beforeDraw(chart){
  const a = chart.chartArea, c = chart.ctx; c.save(); c.fillStyle = '#E5ECF6'; c.fillRect(a.left, a.top, a.right-a.left, a.bottom-a.top); c.restore(); } };

Chart.defaults.font.family = "'Open Sans', sans-serif";
Chart.defaults.color = INK;
const page = document.getElementById('page');

function panel(o){
  const xH = o.row === 2 ? 62 : 30;
  const w = 58 + PW + 8, h = 37 + PH + xH;
  const cv = document.createElement('canvas');
  cv.width = w; cv.height = h;
  cv.style.left = (colLeft[o.col]-58) + 'px'; cv.style.top = (rowTop[o.row]-37) + 'px';
  cv.style.width = w + 'px'; cv.style.height = h + 'px';
  page.appendChild(cv);
  new Chart(cv.getContext('2d'), {
    type: o.type || 'scatter',
    data: { datasets: o.datasets },
    options: {
      responsive:false, animation:false, events:[], devicePixelRatio:1,
      layout:{ padding:{ left:0, right:8, top:0, bottom:0 } },
      plugins:{ legend:{display:false}, tooltip:{enabled:false},
        title:{ display:true, text:o.title, fullSize:false, color:INK, font:{size:20, weight:'normal', lineHeight:1.2}, padding:{top:9, bottom:4} } },
      scales:{
        x:{ type:'linear', min:o.xr[0], max:o.xr[1],
          afterBuildTicks: s => { s.ticks = o.xt.map(v=>({value:v})); },
          afterFit: s => { s.height = xH; },
          ticks:{ autoSkip:false, maxRotation:0, minRotation:0, padding:3, color:INK, font:{size:14},
            callback: v => o.xl[o.xt.indexOf(v)] },
          grid:{ color:'#ffffff', lineWidth:1, drawTicks:false },
          border:{ display:false },
          title:{ display:!!o.xTitle, text:o.xTitle || '', color:INK, font:{size:16.5}, padding:{top:0, bottom:9} } },
        y:{ type:'linear', min:o.yr[0], max:o.yr[1],
          afterBuildTicks: s => { s.ticks = o.yt.map(v=>({value:v})); },
          afterFit: s => { s.width = 58; },
          ticks:{ autoSkip:false, padding:4, color:INK, font:{size:14}, callback: v => String(v) },
          grid:{ color:'#ffffff', lineWidth:1, drawTicks:false },
          border:{ display:false },
          title:{ display:!!o.yTitle, text:'°C', color:INK, font:{size:16.5}, padding:{top:10, bottom:0} } }
      }
    },
    plugins:[bgPlugin]
  });
}

function scatterPanel(col,row,title,x,t,linX,linY,xr,yr,xt,xl,yt,extra){
  panel(Object.assign({col,row,title,xr,yr,xt,xl,yt,
    datasets:[ linTE(linX, linY), cloud(x, t, bluered), cloud(x, tempScale3, jet), cloud(x, tempScale1, viridis) ]}, extra||{}));
}

scatterPanel(0,0,'Top diameter (0_2)', topDiaX, topDiaT, topDiaLinX, topDiaLinY, [1300.3676,1300.767],[19.1,42.8], topDiaTicks, topDiaTickText, [20,25,30,35,40], {yTitle:true});
scatterPanel(1,0,'Mid diameter (3_5)', midDiaX, midDiaT, midDiaLinX, midDiaLinY, [1413.701,1414.252],[20.19,42.72], midDiaTicks, midDiaTickText, [25,30,35,40]);
scatterPanel(2,0,'Bottom diameter (6_7)', botDiaX, botDiaT, botDiaLinX, botDiaLinY, [1314.6926,1315.1319],[19.9,47.72], botDiaTicks, botDiaTickText, [20,30,40]);
scatterPanel(0,1,'Vertical top left (2_3)', vtlX, vtlT, vtlLinX, vtlLinY, [459.22,459.3615],[19.85,42.72], vtlTicks, vtlTickText, [20,25,30,35,40], {yTitle:true});
scatterPanel(1,1,'Vertical top center (1_4)', vtcX, vtcT, vtcLinX, vtcLinY, [791.256,791.4936],[19.85,42.72], vtcTicks, vtcTickText, [20,25,30,35,40]);
scatterPanel(2,1,'Vertical top right (0_5)', vtrX, vtrT, vtrLinX, vtrLinY, [459.3699,459.4903],[19.85,42.72], vtrTicks, vtrTickText, [20,25,30,35,40]);
scatterPanel(0,2,'Vertical bottom left (3_7)', vblX, vblT, vblLinX, vblLinY, [430.8342,431.0136],[20.25,43.83], vblTicks, vblTickText, [25,30,35,40], {yTitle:true, xTitle:'mm'});
scatterPanel(1,2,'Vertical bottom right (5_6)', vbrX, vbrT, vbrLinX, vbrLinY, [433.1436,433.3214],[20.38,42.57], vbrTicks, vbrTickText, [25,30,35,40], {xTitle:'mm'});

// temperature panel
const tempTickVals = tempTicks.map(toMin);
panel({ col:2, row:2, title:'Temperature', type:'line', xr:[T0, T1], yr:[18.53,55.58],
  xt: tempTickVals, xl: tempTicks.map((s,i)=> i===0 ? [s, tempFirstTickSub] : s), yt:[20,30,40,50],
  datasets: lineSeries.map((arr,i)=>({ label:lineNames[i], data: arr.map((y,k)=>({x:lineMin[k], y:y})),
    borderColor: lineColors[i], backgroundColor: lineColors[i], borderWidth:2.4, pointRadius:0, fill:false, tension:0, order:-i })) });

// legend
const legendItems = [{name:'Lin. TE', color:'#444444'}].concat(lineNames.map((n,i)=>({name:n, color:lineColors[i]})));
legendItems.forEach((it,i)=>{
  const d = document.createElement('div'); d.className = 'lg';
  d.style.left = (i === 0 ? 63 : 169.3 + (i-1)*73.1) + 'px';
  d.innerHTML = '<i style="background:' + it.color + '"></i><span>' + it.name + '</span>';
  page.appendChild(d);
});

// colour bars
[[viridis,'1',838],[bluered,'2',874],[jet,'3',910]].forEach(([stops,label,top])=>{
  const b = document.createElement('div'); b.className = 'cb'; b.style.top = top + 'px';
  b.style.background = 'linear-gradient(to right,' + stops.map(s=>s[1] + ' ' + (s[0]*100).toFixed(2) + '%').join(',') + ')';
  page.appendChild(b);
  const l = document.createElement('div'); l.className = 'cbl'; l.style.top = top + 'px'; l.textContent = label;
  page.appendChild(l);
});
cbTickTimes.forEach((s,i)=>{
  const d = document.createElement('div'); d.className = 'cbt';
  d.style.left = (96 + (toMin(s)-T0)/(T1-T0)*1019) + 'px';
  d.textContent = cbTickText[i];
  page.appendChild(d);
});
</script></body></html>
